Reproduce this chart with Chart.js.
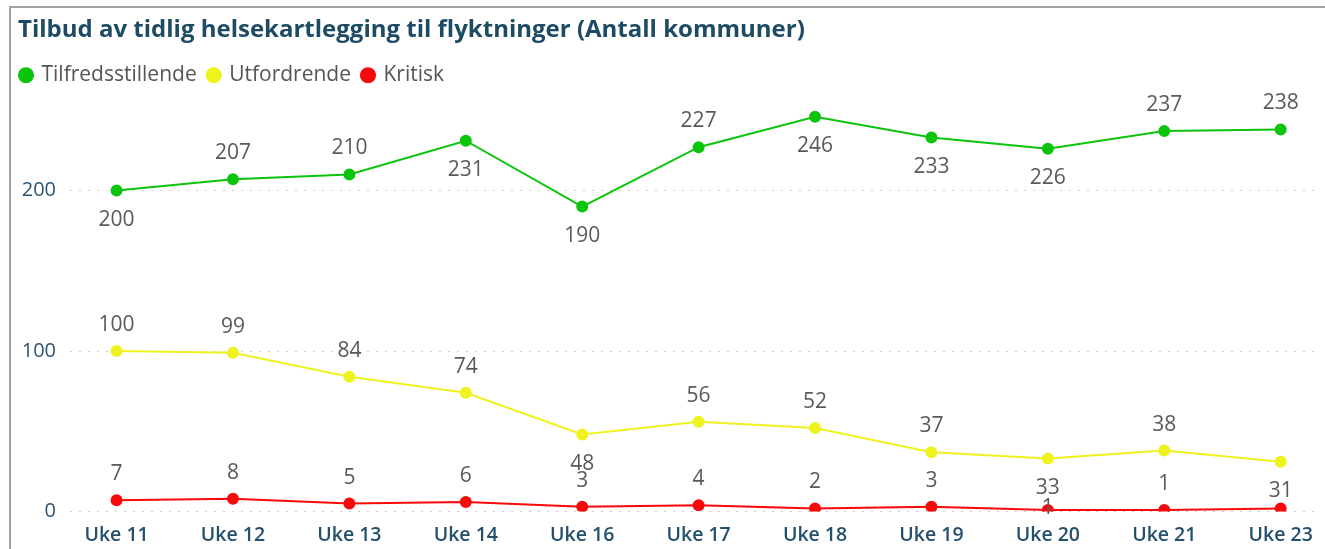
<!DOCTYPE html>
<html>
<head>
<meta charset="utf-8">
<script src="https://cdn.jsdelivr.net/npm/chart.js@4/dist/chart.umd.min.js"></script>
<style>
  html, body { margin: 0; padding: 0; background: #fff; }
  #frame {
    position: absolute; left: 9px; top: 6px;
    width: 1316px; height: 543px;
    border-left: 2px solid #a3a3a3; border-top: 2px solid #a3a3a3;
  }
  #wrap { position: absolute; left: 0; top: 0; width: 1314px; height: 541px; }
</style>
</head>
<body>
<div id="frame"><div id="wrap"><canvas id="chart"></canvas></div></div>
<script>
// data
const weeks = ['Uke 11', 'Uke 12', 'Uke 13', 'Uke 14', 'Uke 16', 'Uke 17', 'Uke 18', 'Uke 19', 'Uke 20', 'Uke 21', 'Uke 23'];
const tilfredsstillende = [200, 207, 210, 231, 190, 227, 246, 233, 226, 237, 238];
const utfordrende = [100, 99, 84, 74, 48, 56, 52, 37, 33, 38, 31];
const kritisk = [7, 8, 5, 6, 3, 4, 2, 3, 1, 1, 2];
const yTicks = [0, 100, 200];

// where each data label sits (a = above, b = below, c = on point, n = hidden)
const labelSpots = [
  ['b', 'a', 'a', 'b', 'b', 'a', 'b', 'b', 'b', 'a', 'a'],
  ['a', 'a', 'a', 'a', 'b', 'a', 'a', 'a', 'b', 'a', 'b'],
  ['a', 'a', 'a', 'a', 'a', 'a', 'a', 'a', 'c', 'a', 'n']
];

const FONT = '"Open Sans", "Noto Sans", sans-serif';

function points(values) {
  return values.map((v, i) => ({ x: i, y: v }));
}

function series(label, values, color) {
  return {
    label: label,
    data: points(values),
    borderColor: color,
    backgroundColor: color,
    pointBackgroundColor: color,
    pointBorderColor: color,
    borderWidth: 2,
    pointRadius: 5,
    pointHoverRadius: 5,
    tension: 0
  };
}

const pointLabels = {
  id: 'pointLabels',
  afterLayout(chart) {
    // pull the legend row a little left, in line with the title
    chart.legend.left -= 9;
    chart.legend.right -= 9;
  },
  afterDatasetsDraw(chart) {
    const ctx = chart.ctx;
    ctx.save();
    ctx.font = '21px ' + FONT;
    ctx.fillStyle = '#5a5a5a';
    ctx.textAlign = 'center';
    ctx.textBaseline = 'middle';
    chart.data.datasets.forEach((ds, di) => {
      const meta = chart.getDatasetMeta(di);
      meta.data.forEach((el, i) => {
        const spot = labelSpots[di][i];
        if (spot === 'n') return;
        let dy = 0;
        if (spot === 'a') dy = -26;
        if (spot === 'b') dy = 29;
        if (spot === 'c') dy = -2;
        ctx.fillText(String(ds.data[i].y), el.x, el.y + dy);
      });
    });
    ctx.restore();
  }
};

new Chart(document.getElementById('chart'), {
  type: 'line',
  data: {
    datasets: [
      series('Tilfredsstillende', tilfredsstillende, '#0dc40d'),
      series('Utfordrende', utfordrende, '#eef21e'),
      series('Kritisk', kritisk, '#f80a0a')
    ]
  },
  options: {
    responsive: true,
    maintainAspectRatio: false,
    animation: false,
    layout: { padding: { left: 7, right: 3, top: 0, bottom: -10 } },
    plugins: {
      title: {
        display: true,
        text: 'Tilbud av tidlig helsekartlegging til flyktninger (Antall kommuner)',
        align: 'start',
        color: '#1d4b64',
        font: { family: FONT, size: 24, weight: 'bold' },
        padding: { top: 8, bottom: 8 }
      },
      legend: {
        align: 'start',
        labels: {
          usePointStyle: true,
          pointStyle: 'circle',
          boxHeight: 10,
          boxWidth: 10,
          padding: 12,
          color: '#555555',
          font: { family: FONT, size: 21 }
        }
      },
      tooltip: { enabled: false }
    },
    scales: {
      x: {
        type: 'linear',
        min: -0.4,
        max: 10.29,
        grid: { display: false, drawTicks: false },
        border: { display: false },
        ticks: {
          stepSize: 1,
          includeBounds: false,
          autoSkip: false,
          maxRotation: 0,
          padding: 12,
          color: '#24506c',
          font: { family: FONT, size: 19.5, weight: '600' },
          callback: (v) => weeks[v] ?? ''
        }
      },
      y: {
        min: 0,
        max: 259,
        grid: { color: '#cfcfcf', lineWidth: 1, drawTicks: false },
        border: { display: false, dash: [2, 7] },
        afterFit: (scale) => { scale.width = 52; },
        afterBuildTicks: (scale) => { scale.ticks = yTicks.map(v => ({ value: v })); },
        ticks: {
          padding: 14,
          color: '#2b5673',
          font: { family: FONT, size: 20 }
        }
      }
    }
  },
  plugins: [pointLabels]
});
</script>
</body>
</html>
